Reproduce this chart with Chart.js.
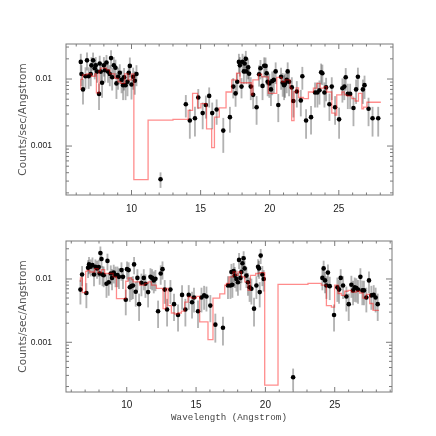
<!DOCTYPE html>
<html>
<head>
<meta charset="utf-8">
<script src="https://cdn.jsdelivr.net/npm/chart.js@4/dist/chart.umd.min.js"></script>
<style>
  body { margin: 0; background: #fff; }
  #wrap { position: relative; width: 436px; height: 436px; }
  canvas { position: absolute; left: 0; }
</style>
</head>
<body>
<div id="wrap">
  <canvas id="topChart" width="436" height="218" style="top:0"></canvas>
  <canvas id="bottomChart" width="436" height="218" style="top:218px"></canvas>
</div>
<script>
// Upper spectrum: data points (wavelength, rate, 1-sigma error)
const topWave = [6.33, 6.38, 6.49, 6.67, 6.78, 6.90, 7.05, 7.10, 7.22, 7.34, 7.41, 7.51, 7.65, 7.70, 7.78, 7.87, 8.00, 8.07, 8.19, 8.30,
    8.43, 8.52, 8.60, 8.72, 8.84, 8.91, 9.03, 9.15, 9.28, 9.39, 9.46, 9.57, 9.71, 9.80, 9.88, 10.00, 10.12, 10.24, 10.36,
    12.10,
    13.93, 14.22, 14.59, 14.83, 15.15, 15.38, 15.62, 15.84, 16.16, 16.64, 17.12, 17.36, 17.53, 17.65, 17.77, 17.84, 17.96, 18.03, 18.13, 18.18,
    18.27, 18.32, 18.44, 18.51, 18.63, 18.80, 19.05, 19.23, 19.33, 19.48, 19.60, 19.70, 19.78, 19.85, 19.97, 20.09, 20.18, 20.30, 20.43, 20.62,
    20.82, 20.94, 21.04, 21.11, 21.23, 21.30, 21.40, 21.60, 21.71, 21.96, 22.25, 22.36, 22.63, 22.99, 23.28, 23.45, 23.60, 23.72, 23.81, 23.96,
    24.08, 24.32, 24.49, 24.73, 25.02, 25.26, 25.40, 25.50, 25.65, 25.82, 26.06, 26.25, 26.38, 26.74, 26.86, 27.15, 27.44, 27.85];
const topRate = [0.018, 0.0119, 0.0070, 0.0110, 0.019, 0.0110, 0.0119, 0.016, 0.019, 0.0145, 0.016, 0.0129, 0.0060, 0.017, 0.0129, 0.0088, 0.016, 0.0135, 0.0176, 0.0129,
    0.0119, 0.0205, 0.0106, 0.016, 0.0147, 0.0086, 0.0108, 0.0124, 0.0097, 0.0081, 0.0106, 0.0081, 0.0091, 0.0124, 0.0157, 0.0083, 0.0108, 0.0094, 0.0119,
    0.00032,
    0.0042, 0.0024, 0.0026, 0.0053, 0.0031, 0.0041, 0.0056, 0.0031, 0.0035, 0.0017, 0.0027, 0.0077, 0.0061, 0.0091, 0.018, 0.016, 0.0077, 0.018, 0.013, 0.017,
    0.020, 0.013, 0.015, 0.012, 0.0077, 0.0058, 0.0038, 0.0118, 0.0145, 0.0079, 0.0158, 0.0157, 0.0122, 0.0091, 0.0086, 0.0070, 0.0093, 0.0097, 0.013, 0.0041,
    0.0108, 0.0088, 0.0081, 0.0086, 0.0097, 0.013, 0.0091, 0.0075, 0.0047, 0.0065, 0.0048, 0.011, 0.0024, 0.0027, 0.0063, 0.0063, 0.0068, 0.0126, 0.0122, 0.0063,
    0.0075, 0.0042, 0.0077, 0.0038, 0.0025, 0.0073, 0.0077, 0.0106, 0.0060, 0.0060, 0.0037, 0.0070, 0.0108, 0.0070, 0.0081, 0.0036, 0.0026, 0.0026];
const topErr = [0.0055, 0.004, 0.0028, 0.0038, 0.0055, 0.0038, 0.004, 0.005, 0.0055, 0.0045, 0.005, 0.004, 0.0025, 0.005, 0.004, 0.0035, 0.005, 0.0045, 0.005, 0.004,
    0.004, 0.006, 0.0038, 0.005, 0.0045, 0.0035, 0.0038, 0.004, 0.0035, 0.0032, 0.0038, 0.0032, 0.0035, 0.004, 0.005, 0.0033, 0.0038, 0.0035, 0.004,
    0.00008,
    0.0015, 0.0011, 0.0012, 0.0017, 0.0013, 0.0015, 0.0018, 0.0013, 0.0014, 0.0009, 0.0011, 0.0025, 0.0022, 0.003, 0.0055, 0.005, 0.0025, 0.0055, 0.0045, 0.005,
    0.006, 0.0045, 0.005, 0.004, 0.0028, 0.0022, 0.0017, 0.004, 0.0045, 0.003, 0.005, 0.005, 0.004, 0.0035, 0.0033, 0.003, 0.0035, 0.0035, 0.0045, 0.0018,
    0.0038, 0.0033, 0.0032, 0.0033, 0.0035, 0.0045, 0.0035, 0.003, 0.002, 0.0027, 0.002, 0.004, 0.0011, 0.0012, 0.0025, 0.0025, 0.0026, 0.0042, 0.004, 0.0025,
    0.0028, 0.0018, 0.0028, 0.0017, 0.0012, 0.0028, 0.0028, 0.0038, 0.0024, 0.0024, 0.0017, 0.0027, 0.0038, 0.0027, 0.003, 0.0016, 0.0012, 0.0012];

// Upper spectrum: model histogram (bin edges and one value per bin)
const topEdges = [6.33, 6.45, 6.74, 7.10, 7.34, 7.46, 7.65, 7.75, 8.19, 8.43, 8.79, 9.03, 9.22, 9.51, 9.75, 10.0, 10.17, 11.2, 13.0, 14.1,
    14.42, 14.78, 15.02, 15.43, 15.8, 16.0, 16.35, 16.84, 17.25, 17.6, 17.85, 18.66, 18.78, 19.18, 19.42, 19.90, 20.51, 20.87, 21.11, 21.47,
    21.59, 21.76, 21.91, 22.08, 22.44, 22.80, 23.16, 23.40, 23.65, 23.94, 24.13, 24.49, 24.73, 24.85, 25.22, 25.39, 25.58, 25.94, 26.18, 26.42,
    26.67, 26.79, 27.03, 27.70, 28.04];
const topModel = [0.0070, 0.0099, 0.0115, 0.0119, 0.0110, 0.0119, 0.0062, 0.0133, 0.0145, 0.0137, 0.0119, 0.0102, 0.0091, 0.0086, 0.0119, 0.0097, 0.0119, 0.000315, 0.00243, 0.0025,
    0.0034, 0.0061, 0.0037, 0.0043, 0.0018, 0.00095, 0.0027, 0.0037, 0.0064, 0.0097, 0.0122, 0.0088, 0.0058, 0.0097, 0.0118, 0.0108, 0.0061, 0.0106, 0.0091, 0.0097,
    0.0073, 0.0024, 0.0064, 0.0074, 0.0053, 0.0051, 0.0064, 0.0073, 0.0086, 0.0073, 0.0077, 0.0064, 0.0031, 0.0029, 0.0058, 0.0064, 0.0058, 0.0056, 0.0051, 0.0047,
    0.0061, 0.0036, 0.0038, 0.0045];

// Lower spectrum: data points
const botWave = [6.66, 6.78, 7.09, 7.21, 7.28, 7.40, 7.53, 7.64, 7.74, 7.86, 7.98, 8.05, 8.10, 8.18, 8.25, 8.34, 8.54, 8.61, 8.70, 8.85,
    8.94, 9.06, 9.19, 9.33, 9.44, 9.62, 9.73, 9.93, 10.02, 10.14, 10.22, 10.34, 10.45, 10.53, 10.65, 10.77, 10.89, 11.06, 11.23, 11.35,
    11.54, 11.71, 11.83, 11.95, 12.07, 12.26, 12.45, 12.58, 12.74, 12.91, 13.15, 13.41, 13.70, 13.99, 14.23, 14.47, 14.71, 14.85, 15.14, 15.39,
    15.58, 15.75, 16.03, 16.39, 16.94, 17.30, 17.48, 17.55, 17.62, 17.71, 17.79, 17.91, 18.02, 18.10, 18.20, 18.27, 18.34, 18.43, 18.50, 18.63,
    18.74, 18.86, 18.99, 19.18, 19.35, 19.47, 19.54, 19.59, 19.66, 19.78, 19.88,
    22.0,
    24.11, 24.20, 24.30, 24.40, 24.51, 24.64, 24.95, 25.19, 25.31, 25.43, 25.60, 25.84, 26.01, 26.20, 26.32, 26.44, 26.56, 26.68, 26.85, 26.99,
    27.11, 27.28, 27.47, 27.64, 27.81, 27.95, 28.10];
const botRate = [0.0068, 0.0118, 0.0060, 0.0150, 0.0170, 0.0156, 0.0166, 0.0118, 0.0156, 0.0147, 0.0154, 0.0122, 0.0257, 0.0207, 0.0118, 0.0115, 0.0084, 0.0193, 0.0089, 0.0122,
    0.0104, 0.0126, 0.0115, 0.0115, 0.0108, 0.0138, 0.0108, 0.0047, 0.0143, 0.0138, 0.0074, 0.0077, 0.0079, 0.0170, 0.0063, 0.0104, 0.0040, 0.0087, 0.0104, 0.0084,
    0.0062, 0.0108, 0.0104, 0.0095, 0.0101, 0.0031, 0.0122, 0.0143, 0.0068, 0.0033, 0.0068, 0.0040, 0.0027, 0.0056, 0.0033, 0.0056, 0.0043, 0.0051, 0.0031, 0.0051,
    0.0055, 0.0053, 0.0038, 0.0019, 0.0017, 0.0079, 0.0079, 0.0129, 0.0081, 0.0133, 0.0113, 0.0100, 0.0089, 0.0200, 0.0104, 0.0129, 0.0177, 0.0213, 0.0147, 0.0113,
    0.0089, 0.0074, 0.0070, 0.0034, 0.0079, 0.0156, 0.0147, 0.0062, 0.0234, 0.0118, 0.0100,
    0.00028,
    0.0104, 0.0147, 0.0095, 0.0079, 0.0126, 0.0077, 0.0027, 0.0074, 0.0068, 0.0104, 0.0079, 0.0053, 0.0040, 0.0081, 0.0066, 0.0074, 0.0072, 0.0068, 0.0108, 0.0066,
    0.0066, 0.0051, 0.0095, 0.0055, 0.0056, 0.0051, 0.0040];
const botErr = [0.0028, 0.004, 0.0025, 0.0045, 0.005, 0.0045, 0.005, 0.004, 0.0045, 0.0045, 0.0045, 0.004, 0.0065, 0.0055, 0.004, 0.004, 0.0033, 0.0055, 0.0034, 0.004,
    0.0037, 0.004, 0.004, 0.004, 0.0038, 0.0043, 0.0038, 0.002, 0.0044, 0.0043, 0.003, 0.003, 0.003, 0.005, 0.0026, 0.0037, 0.0018, 0.0033, 0.0037, 0.0033,
    0.0026, 0.0038, 0.0037, 0.0035, 0.0036, 0.0014, 0.004, 0.0044, 0.0027, 0.0015, 0.0027, 0.0018, 0.0012, 0.0023, 0.0015, 0.0023, 0.0019, 0.0021, 0.0014, 0.0021,
    0.0022, 0.0022, 0.0017, 0.0009, 0.0008, 0.003, 0.003, 0.0042, 0.003, 0.0043, 0.004, 0.0036, 0.0034, 0.0055, 0.0037, 0.0042, 0.005, 0.0058, 0.0045, 0.004,
    0.0034, 0.003, 0.003, 0.0016, 0.003, 0.0046, 0.0045, 0.0026, 0.006, 0.004, 0.0036,
    0.0001,
    0.0037, 0.0045, 0.0035, 0.003, 0.0042, 0.003, 0.0012, 0.003, 0.0027, 0.0037, 0.003, 0.0022, 0.0018, 0.003, 0.0027, 0.003, 0.0029, 0.0027, 0.0038, 0.0027,
    0.0027, 0.0021, 0.0035, 0.0022, 0.0023, 0.0021, 0.0018];

// Lower spectrum: model histogram
const botEdges = [6.66, 6.80, 7.04, 7.14, 7.33, 7.69, 7.93, 8.17, 8.41, 9.02, 9.26, 9.93, 10.10, 10.34, 10.46, 10.94, 11.30, 11.54, 11.78, 12.14,
    12.62, 12.81, 12.98, 13.22, 13.46, 13.70, 13.94, 14.18, 14.42, 14.66, 15.02, 15.26, 15.86, 16.22, 16.71, 17.07, 17.19, 17.38, 17.67, 17.86,
    18.03, 18.27, 18.51, 18.75, 18.92, 19.30, 19.59, 19.95, 20.91, 23.07, 24.03, 24.40, 24.76, 24.99, 25.24, 25.48, 25.72, 25.96, 26.20, 26.56,
    26.80, 27.04, 27.28, 27.52, 27.76, 28.00, 28.19];
const botModel = [0.0090, 0.0104, 0.0061, 0.0132, 0.0137, 0.0129, 0.0146, 0.0126, 0.0141, 0.0122, 0.0108, 0.0049, 0.0092, 0.0104, 0.0098, 0.0090, 0.0080, 0.0085, 0.0090, 0.0080,
    0.0071, 0.0034, 0.0071, 0.0038, 0.0029, 0.0028, 0.0029, 0.0031, 0.0043, 0.0052, 0.0050, 0.0053, 0.0021, 0.0011, 0.0050, 0.0058, 0.0080, 0.0085, 0.0108, 0.0129,
    0.0114, 0.0129, 0.0108, 0.0090, 0.0066, 0.0114, 0.0122, 0.0126, 0.00021, 0.0082, 0.0085, 0.0080, 0.0038, 0.0036, 0.0080, 0.0059, 0.0055, 0.0064, 0.0066, 0.0062,
    0.0064, 0.0060, 0.0050, 0.0057, 0.0041, 0.0032];

// Axis labels
const xTicks = [10, 15, 20, 25];
const yTicks = [0.001, 0.01];

Chart.defaults.font.family = "'Liberation Sans', Arial, sans-serif";
Chart.defaults.color = '#222';

// Frame with inward major/minor ticks on all four sides
const frameTicks = {
    id: 'frameTicks',
    afterDraw(chart) {
        const { ctx, chartArea: a, scales: { x, y } } = chart;
        ctx.save();
        ctx.strokeStyle = '#7a7a7a';
        ctx.lineWidth = 1;
        ctx.strokeRect(a.left, a.top, a.right - a.left, a.bottom - a.top);
        ctx.beginPath();
        for (let v = Math.ceil(x.min); v <= x.max; v++) {
            const px = x.getPixelForValue(v);
            const len = v % 5 === 0 ? 5 : 2.5;
            ctx.moveTo(px, a.bottom); ctx.lineTo(px, a.bottom - len);
            ctx.moveTo(px, a.top); ctx.lineTo(px, a.top + len);
        }
        const d0 = Math.floor(Math.log10(y.min)), d1 = Math.ceil(Math.log10(y.max));
        for (let d = d0; d <= d1; d++) {
            for (let m = 1; m < 10; m++) {
                const v = m * Math.pow(10, d);
                if (v < y.min || v > y.max) continue;
                const py = y.getPixelForValue(v);
                const len = m === 1 ? 6 : 3;
                ctx.moveTo(a.left, py); ctx.lineTo(a.left + len, py);
                ctx.moveTo(a.right, py); ctx.lineTo(a.right - len, py);
            }
        }
        ctx.stroke();
        ctx.restore();
    }
};

function makePanel(id, wave, rate, err, edges, model, range, layout, xTitle) {
    const points = wave.map((w, i) => ({ x: w, y: rate[i] }));
    const bars = wave.map((w, i) => ({ x: w, y: [rate[i] - err[i], rate[i] + err[i]] }));
    const steps = model.map((m, i) => ({ x: edges[i], y: m }));
    steps.push({ x: edges[edges.length - 1], y: model[model.length - 1] });

    return new Chart(document.getElementById(id).getContext('2d'), {
        type: 'scatter',
        data: {
            datasets: [{
                type: 'bar',
                data: bars,
                backgroundColor: 'rgba(0, 0, 0, 0.3)',
                barThickness: 1.2,
                grouped: false,
                order: 3
            }, {
                type: 'scatter',
                data: points,
                backgroundColor: '#000',
                pointRadius: 2.3,
                pointBorderWidth: 0,
                order: 2
            }, {
                type: 'line',
                data: steps,
                stepped: 'after',
                borderColor: 'rgba(255, 0, 0, 0.45)',
                borderWidth: 1.3,
                pointRadius: 0,
                fill: false,
                order: 1
            }]
        },
        options: {
            responsive: false,
            animation: false,
            layout: { padding: layout.padding },
            plugins: { legend: { display: false }, tooltip: { enabled: false } },
            scales: {
                x: {
                    type: 'linear',
                    min: range.xMin,
                    max: range.xMax,
                    offset: false,
                    grid: { display: false, drawTicks: false },
                    border: { display: false },
                    afterBuildTicks: s => { s.ticks = xTicks.map(v => ({ value: v })); },
                    afterFit: s => { s.height = layout.xHeight; },
                    ticks: { font: { size: 10 }, padding: layout.xPad, maxRotation: 0 },
                    title: {
                        display: !!xTitle,
                        text: xTitle || '',
                        color: '#444',
                        font: { family: "'Liberation Mono', monospace", size: 9.2 },
                        padding: { top: 0, bottom: 13 }
                    }
                },
                y: {
                    type: 'logarithmic',
                    min: range.yMin,
                    max: range.yMax,
                    grid: { display: false, drawTicks: false },
                    border: { display: false },
                    afterBuildTicks: s => { s.ticks = yTicks.map(v => ({ value: v })); },
                    afterFit: s => { s.width = 66; },
                    ticks: { font: { size: 8.5 }, padding: 14, callback: v => String(v) },
                    title: {
                        display: true,
                        text: 'Counts/sec/Angstrom',
                        color: '#555',
                        font: { family: "'DejaVu Sans', sans-serif", size: 10.5 },
                        padding: { top: 17, bottom: 0 }
                    }
                }
            }
        },
        plugins: [frameTicks]
    });
}

makePanel('topChart', topWave, topRate, topErr, topEdges, topModel,
    { xMin: 5.26, xMax: 28.92, yMin: 1.86e-4, yMax: 0.0333 },
    { padding: { top: 44, right: 43, left: 0, bottom: 0 }, xHeight: 23, xPad: 8 },
    null);

makePanel('bottomChart', botWave, botRate, botErr, botEdges, botModel,
    { xMin: 5.62, xMax: 29.13, yMin: 1.64e-4, yMax: 0.0398 },
    { padding: { top: 23, right: 44, left: 0, bottom: 0 }, xHeight: 44, xPad: 7 },
    'Wavelength (Angstrom)');
</script>
</body>
</html>
